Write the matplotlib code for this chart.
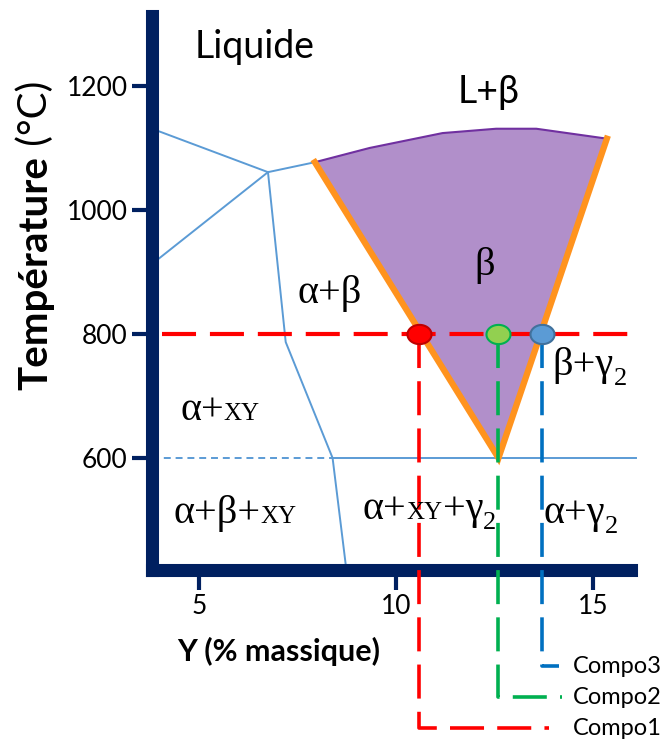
import matplotlib
matplotlib.use('Agg')
import matplotlib.pyplot as plt
import matplotlib.transforms as mtransforms
import numpy as np

plt.rcParams['lines.scale_dashes'] = False

# --- data ---
# top of the beta field (liquidus side), left to right
beta_top_x = [7.94, 9.33, 11.18, 12.54, 13.56, 15.35]
beta_top_t = [1077, 1100, 1124, 1131, 1131, 1115]
apex_x, apex_t = 12.6, 600

# light blue phase boundaries
bounds = [
    ([3.81, 6.75], [1131, 1061]),
    ([3.81, 6.75], [913, 1061]),
    ([6.75, 7.94], [1061, 1077]),
    ([6.75, 7.20, 8.39, 8.74], [1061, 787, 600, 419.4]),
    ([8.39, 16.1], [600, 600]),
]
eut_dash_x = [3.81, 8.39]
eut_t = 600

# compositions at 800 C
t_work = 800
comp_x = [10.58, 12.59, 13.71]
comp_names = ['Compo1', 'Compo2', 'Compo3']
comp_leg_t = [164.5, 214.5, 264.5]
comp_leg_end = [13.89, 14.22, 14.14]
comp_col = ['#FF0000', '#00B050', '#0070C0']
dot_face = ['#FF0000', '#92D050', '#5B9BD5']
dot_edge = ['#C00000', '#00B050', '#41719C']

xticks = [5, 10, 15]
yticks = [600, 800, 1000, 1200]

navy = '#002060'
lblue = '#5B9BD5'
sans = ['Lato', 'DejaVu Sans']
serif = ['Liberation Serif', 'DejaVu Serif']

W, H = 667, 744
fig = plt.figure(figsize=(W / 100, H / 100), dpi=100)
ax = fig.add_axes([152 / W, (H - 570) / H, (630.5 - 152) / W, (570 - 16.5) / H])
ax.set_xlim(3.807, 15.95)
ax.set_ylim(419.4, 1312)

# --- axes styling ---
for side in ['top', 'right']:
    ax.spines[side].set_visible(False)
for side in ['left', 'bottom']:
    ax.spines[side].set_linewidth(9.4)
    ax.spines[side].set_color(navy)
    ax.spines[side].set_capstyle('projecting')
ax.set_xticks(xticks)
ax.set_yticks(yticks)
ax.tick_params(axis='both', direction='out', length=14.4, width=3, color=navy,
               labelsize=19, pad=3)
for lab in ax.get_xticklabels() + ax.get_yticklabels():
    lab.set_family(sans)

# --- beta field ---
poly_x = beta_top_x + [apex_x]
poly_t = beta_top_t + [apex_t]
ax.fill(poly_x, poly_t, color='#B18FCA', lw=0, zorder=1)
ax.plot(beta_top_x, beta_top_t, color='#7030A0', lw=1.5, zorder=3)
ax.plot([beta_top_x[0], apex_x, beta_top_x[-1]], [beta_top_t[0], apex_t, beta_top_t[-1]],
        color='#FF931E', lw=4.5, solid_joinstyle='miter', zorder=3)

# --- other boundaries ---
for bx, bt in bounds:
    ax.plot(bx, bt, color=lblue, lw=1.4, zorder=2, clip_on=False)
ax.plot(eut_dash_x, [eut_t, eut_t], color=lblue, lw=1.4, dashes=(5, 3.5), zorder=2)

# --- 800 C line and compositions ---
ax.plot([4.07, 15.94], [t_work, t_work], color='#FF0000', lw=3, dashes=(24.5, 10),
        zorder=4, clip_on=False)
for i in range(3):
    ax.plot([comp_x[i], comp_x[i], comp_leg_end[i]], [t_work, comp_leg_t[i], comp_leg_t[i]],
            color=comp_col[i], lw=2.6, dashes=(24.5, 9.5), zorder=4, clip_on=False)
    ax.text(14.49, comp_leg_t[i], comp_names[i], fontsize=17, family=sans,
            ha='left', va='center', clip_on=False)

th = np.linspace(0, 2 * np.pi, 60)
ell = np.c_[np.cos(th), 0.8 * np.sin(th)]
for i in range(3):
    ax.scatter([comp_x[i]], [t_work], s=300, marker=ell, facecolor=dot_face[i],
               edgecolor=dot_edge[i], linewidth=1.5, zorder=6, clip_on=False)

# --- region labels ---
renderer = fig.canvas.get_renderer()


def rich_text(x, y, pieces, family=serif):
    # pieces: (text, fontsize, baseline shift in px)
    ox = 0.0
    for s, size, dy in pieces:
        tr = mtransforms.offset_copy(ax.transData, fig=fig, x=ox, y=dy, units='dots')
        t = ax.text(x, y, s, transform=tr, fontsize=size, family=family,
                    ha='left', va='baseline', clip_on=False, zorder=7)
        ox += t.get_window_extent(renderer).width


S, SM, SUB = 29, 18, 19
rich_text(4.52, 661, [('α+', S, 0), ('XY', SM, 0)])
rich_text(4.34, 495, [('α+β+', S, 0), ('XY', SM, 0)])
rich_text(9.16, 502, [('α+', S, 0), ('XY', SM, 0), ('+γ', S, 0), ('2', SUB, -10)])
rich_text(13.73, 495, [('α+γ', S, 0), ('2', SUB, -10)])
rich_text(13.98, 734, [('β+γ', S, 0), ('2', SUB, -10)])
rich_text(7.51, 850, [('α+β', S, 0)])
rich_text(12.0, 895, [('β', S, 0)])

ax.text(4.9, 1245, 'Liquide', fontsize=27, family=sans, ha='left', va='baseline')
ax.text(11.57, 1172, 'L+β', fontsize=27, family=sans, ha='left', va='baseline')

# --- axis titles ---
fig.text(279 / W, (H - 661) / H, 'Y (% massique)', fontsize=22, fontweight='bold',
         family=sans, ha='center', va='baseline')
t1 = fig.text(47 / W, (H - 390) / H, 'Température', rotation=90, rotation_mode='anchor',
              ha='left', va='baseline', fontsize=29, fontweight='bold', family=sans)
h1 = t1.get_window_extent(renderer).height
fig.text(47 / W, (H - 390 + h1) / H, ' (°C)', rotation=90, rotation_mode='anchor',
         ha='left', va='baseline', fontsize=29, family=sans)

fig.savefig('out.png', dpi=100)
